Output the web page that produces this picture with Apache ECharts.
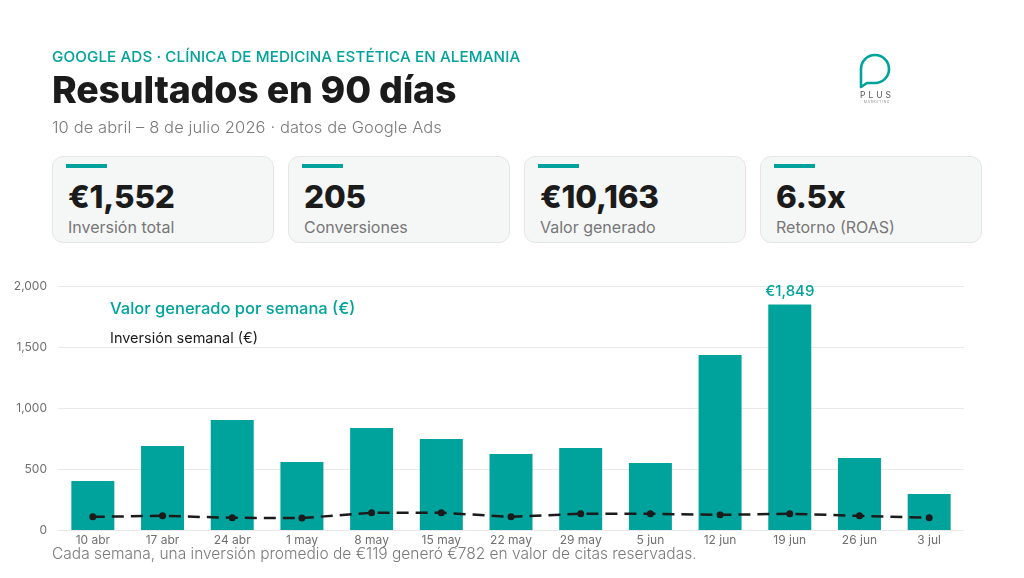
<!DOCTYPE html>
<html lang="es">
<head>
<meta charset="utf-8">
<title>Resultados en 90 días</title>
<script src="https://cdn.jsdelivr.net/npm/echarts@6/dist/echarts.min.js"></script>
<style>
  html, body { margin: 0; padding: 0; background: #fff; }
  body { width: 1024px; height: 578px; position: relative; overflow: hidden;
         font-family: Inter, "Noto Sans", sans-serif; }
  #chart { position: absolute; left: 0; top: 0; width: 1024px; height: 578px; }
  .head { position: absolute; left: 52px; top: 0; z-index: 2; }
  .kicker { position: absolute; top: 47px; left: 0; white-space: nowrap;
            color: #00a39b; font-size: 15.2px; font-weight: 500; letter-spacing: 0.1px; }
  .title { position: absolute; top: 67px; left: 0; white-space: nowrap;
           color: #1b1b1b; font-size: 37.5px; font-weight: 800; letter-spacing: -0.2px; }
  .sub { position: absolute; top: 117px; left: 0; white-space: nowrap;
         color: #7a7a7a; font-size: 16.5px; font-weight: 300; letter-spacing: 0.1px; }
  .card { position: absolute; top: 156px; width: 222px; height: 87px; box-sizing: border-box;
          background: #f5f6f6; border: 1.5px solid #e4e6e6; border-radius: 11px; z-index: 2; }
  .card .bar { position: absolute; left: 13px; top: 7px; width: 41px; height: 4px; background: #00a39b; }
  .card .val { position: absolute; left: 15px; top: 20px; font-size: 31.5px; font-weight: 800;
               color: #1b1b1b; letter-spacing: -0.2px; }
  .card .lab { position: absolute; left: 15px; top: 60px; font-size: 16px; font-weight: 400; color: #777; }
  .logo { position: absolute; left: 852px; top: 49px; width: 50px; height: 56px; z-index: 2; }
</style>
</head>
<body>
<div id="chart"></div>

<div class="head">
  <div class="kicker">GOOGLE ADS · CLÍNICA DE MEDICINA ESTÉTICA EN ALEMANIA</div>
  <div class="title">Resultados en 90 días</div>
  <div class="sub">10 de abril – 8 de julio 2026 · datos de Google Ads</div>
</div>

<div class="card" style="left:52px"><div class="bar"></div><div class="val">€1,552</div><div class="lab">Inversión total</div></div>
<div class="card" style="left:288px"><div class="bar"></div><div class="val">205</div><div class="lab">Conversiones</div></div>
<div class="card" style="left:524px"><div class="bar"></div><div class="val">€10,163</div><div class="lab">Valor generado</div></div>
<div class="card" style="left:760px"><div class="bar"></div><div class="val">6.5x</div><div class="lab">Retorno (ROAS)</div></div>

<svg class="logo" viewBox="0 0 50 56">
  <path d="M9 34 L9 20 A14 14 0 1 1 23 34 L15 34 L9 38 Z" fill="none" stroke="#00a39b" stroke-width="2.6" stroke-linejoin="round"/>
  <text x="25" y="49" text-anchor="middle" font-size="8.5" letter-spacing="3" fill="#555" font-family="Inter, sans-serif">PLUS</text>
  <text x="25" y="54" text-anchor="middle" font-size="3.2" letter-spacing="0.8" fill="#888" font-family="Inter, sans-serif">MARKETING</text>
</svg>

<script>
(function () {
  var TEAL = '#00a39b';
  var FONT = 'Inter, "Noto Sans", sans-serif';

  var WEEKS = ['10 abr', '17 abr', '24 abr', '1 may', '8 may', '15 may', '22 may',
               '29 may', '5 jun', '12 jun', '19 jun', '26 jun', '3 jul'];
  var VALUE = [402, 689, 902, 557, 836, 746, 623, 672, 549, 1434, 1849, 590, 295];
  var SPEND = [108, 116, 100, 98, 141, 141, 108, 133, 133, 124, 133, 116, 101];
  var Y_TICKS = [0, 500, 1000, 1500, 2000];

  var peak = VALUE.indexOf(Math.max.apply(null, VALUE));

  var chart = echarts.init(document.getElementById('chart'), null, { renderer: 'canvas' });

  chart.setOption({
    animation: false,
    textStyle: { fontFamily: FONT },
    grid: { left: 58, right: 60, top: 286, bottom: 48 },
    legend: {
      orient: 'vertical',
      left: 100,
      top: 296,
      itemGap: 13,
      icon: 'none',
      itemWidth: 0,
      itemHeight: 0,
      selectedMode: false,
      data: [
        { name: 'Valor generado por semana (€)', textStyle: { color: TEAL, fontSize: 16.5, fontWeight: 500 } },
        { name: 'Inversión semanal (€)', textStyle: { color: '#1b1b1b', fontSize: 14.5 } }
      ]
    },
    xAxis: {
      type: 'category',
      data: WEEKS,
      axisLine: { show: false },
      axisTick: { show: false },
      axisLabel: { color: '#6f6f6f', fontSize: 12, margin: 4 }
    },
    yAxis: {
      type: 'value',
      min: Y_TICKS[0],
      max: Y_TICKS[Y_TICKS.length - 1],
      interval: 500,
      axisLine: { show: false },
      axisTick: { show: false },
      axisLabel: {
        color: '#6f6f6f', fontSize: 12, margin: 11,
        formatter: function (v) { return v.toLocaleString('en-US'); }
      },
      splitLine: { lineStyle: { color: '#e9e9e9', width: 1 } }
    },
    series: [
      {
        name: 'Valor generado por semana (€)',
        type: 'bar',
        barWidth: 43,
        itemStyle: { color: TEAL },
        data: VALUE.map(function (v, i) {
          if (i !== peak) return v;
          return {
            value: v,
            label: {
              show: true, position: 'top', distance: 5,
              color: TEAL, fontSize: 15, fontWeight: 500,
              formatter: '€' + v.toLocaleString('en-US')
            }
          };
        })
      },
      {
        name: 'Inversión semanal (€)',
        type: 'line',
        data: SPEND,
        symbol: 'circle',
        symbolSize: 7,
        itemStyle: { color: '#1b1b1b' },
        lineStyle: { color: '#1b1b1b', width: 2.5, type: [12, 7] },
        z: 3
      }
    ],
    graphic: [{
      type: 'text',
      left: 52,
      top: 546,
      style: {
        text: 'Cada semana, una inversión promedio de €119 generó €782 en valor de citas reservadas.',
        fill: '#7a7a7a',
        font: '300 15.5px ' + FONT
      }
    }]
  });
})();
</script>
</body>
</html>
